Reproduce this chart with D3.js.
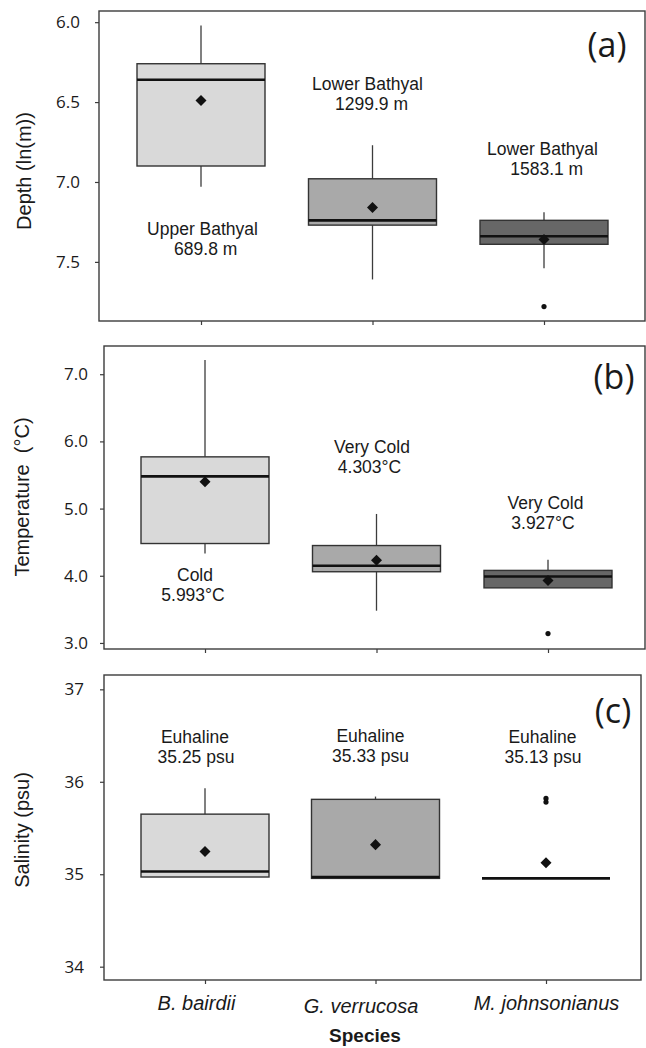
<!DOCTYPE html>
<html>
<head>
<meta charset="utf-8">
<script src="https://cdn.jsdelivr.net/npm/d3@7"></script>
<style>
  body { margin: 0; background: #fff; }
  svg { display: block; }
  text { font-family: "Liberation Sans", Arial, sans-serif; fill: #1a1a1a; }
  .tick text { font-family: "Open Sans", sans-serif; font-size: 17px; fill: #1a1a1a; }
</style>
</head>
<body>
<div id="chart"></div>
<script>
const species = ["B. bairdii", "G. verrucosa", "M. johnsonianus"];
const boxFills = ["#d9d9d9", "#a9a9a9", "#676767"];

// (a) depth, ln(m)
const depthWhiskerLow = [6.02, 6.77, 7.19];
const depthQ1 = [6.26, 6.98, 7.24];
const depthMedian = [6.36, 7.24, 7.34];
const depthQ3 = [6.90, 7.27, 7.39];
const depthWhiskerHigh = [7.03, 7.61, 7.54];
const depthMean = [6.49, 7.16, 7.36];
const depthOutliers = [[], [], [7.78]];
const depthTicks = [6.0, 6.5, 7.0, 7.5];
const depthZone = ["Upper Bathyal", "Lower Bathyal", "Lower Bathyal"];
const depthZoneValue = ["689.8 m", "1299.9 m", "1583.1 m"];

// (b) temperature, °C
const tempWhiskerLow = [4.33, 3.48, 3.82];
const tempQ1 = [4.48, 4.06, 3.82];
const tempMedian = [5.48, 4.15, 3.99];
const tempQ3 = [5.77, 4.45, 4.08];
const tempWhiskerHigh = [7.21, 4.92, 4.24];
const tempMean = [5.40, 4.23, 3.93];
const tempOutliers = [[], [], [3.14]];
const tempTicks = [3.0, 4.0, 5.0, 6.0, 7.0];
const tempZone = ["Cold", "Very Cold", "Very Cold"];
const tempZoneValue = ["5.993°C", "4.303°C", "3.927°C"];

// (c) salinity, psu
const salWhiskerLow = [34.97, 34.955, 34.955];
const salQ1 = [34.97, 34.955, 34.955];
const salMedian = [35.03, 34.97, 34.955];
const salQ3 = [35.65, 35.81, 34.955];
const salWhiskerHigh = [35.93, 35.84, 34.955];
const salMean = [35.245, 35.32, 35.125];
const salOutliers = [[], [], [35.82, 35.78]];
const salTicks = [34, 35, 36, 37];
const salZone = ["Euhaline", "Euhaline", "Euhaline"];
const salZoneValue = ["35.25 psu", "35.33 psu", "35.13 psu"];

const W = 646, H = 1048;
const svg = d3.select("#chart").append("svg")
    .attr("width", W)
    .attr("height", H);

const panels = [
  {
    tag: "(a)", title: "Depth (ln(m))",
    lo: depthWhiskerLow, q1: depthQ1, med: depthMedian, q3: depthQ3, hi: depthWhiskerHigh,
    mean: depthMean, out: depthOutliers, ticks: depthTicks, fmt: d3.format(".1f"),
    zone: depthZone, zoneValue: depthZoneValue,
    left: 99, right: 645, top: 11, bottom: 321, yDomain: [7.87, 5.93],
    xRange: [201, 544], pad: 15,
    ann1Y: [235, 90, 155], ann1Dx: [1.5, -5, -1.5], ann2Dx: [4.7, -1, 2.7],
    tagX: 607, tagY: 57, titleX: 31, titleY: 171
  },
  {
    tag: "(b)", title: "Temperature  (°C)",
    lo: tempWhiskerLow, q1: tempQ1, med: tempMedian, q3: tempQ3, hi: tempWhiskerHigh,
    mean: tempMean, out: tempOutliers, ticks: tempTicks, fmt: d3.format(".1f"),
    zone: tempZone, zoneValue: tempZoneValue,
    left: 104, right: 645, top: 346, bottom: 649, yDomain: [2.91, 7.42],
    xRange: [205, 548], pad: 12,
    ann1Y: [581, 452.7, 508.7], ann1Dx: [-10, -4.5, -2.5], ann2Dx: [-12, -7, -5],
    tagX: 614, tagY: 389, titleX: 29, titleY: 497
  },
  {
    tag: "(c)", title: "Salinity (psu)",
    lo: salWhiskerLow, q1: salQ1, med: salMedian, q3: salQ3, hi: salWhiskerHigh,
    mean: salMean, out: salOutliers, ticks: salTicks, fmt: d3.format("d"),
    zone: salZone, zoneValue: salZoneValue,
    left: 104, right: 641, top: 675, bottom: 980, yDomain: [33.856, 37.155],
    xRange: [205, 546], pad: 16,
    ann1Y: [742.7, 741.7, 742.7], ann1Dx: [-10, -5, -3.5], ann2Dx: [-9, -5, -3],
    tagX: 613, tagY: 723, titleX: 29, titleY: 830,
    showLabels: true
  }
];

const boxHalf = 64;
const labelDx = [-9, -15, 0];
const labelDy = [0, 2.5, 0];

panels.forEach(p => {
  const g = svg.append("g");
  const x = d3.scalePoint().domain(species).range(p.xRange);
  const y = d3.scaleLinear().domain(p.yDomain).range([p.bottom, p.top]);

  // frame
  g.append("rect")
      .attr("x", p.left).attr("y", p.top)
      .attr("width", p.right - p.left).attr("height", p.bottom - p.top)
      .attr("fill", "none").attr("stroke", "#3c3c3c").attr("stroke-width", 1.4);

  // y axis
  const ya = g.append("g")
      .attr("transform", `translate(${p.left},0)`)
      .call(d3.axisLeft(y).tickValues(p.ticks).tickFormat(p.fmt).tickSize(4).tickPadding(p.pad));
  ya.select(".domain").remove();
  ya.selectAll(".tick line").attr("stroke", "#3c3c3c").attr("stroke-width", 1.2);

  // x axis ticks
  const xa = g.append("g")
      .attr("transform", `translate(0,${p.bottom})`)
      .call(d3.axisBottom(x).tickSize(4).tickPadding(11.8)
          .tickFormat(p.showLabels ? (d => d) : () => ""));
  xa.select(".domain").remove();
  xa.selectAll(".tick line").attr("stroke", "#3c3c3c").attr("stroke-width", 1.2);
  if (p.showLabels) {
    xa.selectAll(".tick text")
        .attr("x", (d, i) => labelDx[i])
        .attr("y", (d, i) => 15.8 + labelDy[i])
        .style("font-family", "'Liberation Sans', Arial, sans-serif")
        .style("font-size", "20px")
        .style("font-style", "italic");
  }

  // y title
  g.append("text")
      .attr("transform", `translate(${p.titleX},${p.titleY}) rotate(-90)`)
      .attr("text-anchor", "middle")
      .style("font-size", "20px")
      .style("white-space", "pre")
      .text(p.title);

  // panel tag
  g.append("text")
      .attr("x", p.tagX).attr("y", p.tagY)
      .attr("text-anchor", "middle")
      .style("font-family", "'Open Sans', sans-serif")
      .style("font-size", "34px")
      .text(p.tag);

  species.forEach((s, i) => {
    const cx = x(s);
    const yq1 = y(p.q1[i]), yq3 = y(p.q3[i]);
    const top = Math.min(yq1, yq3), bot = Math.max(yq1, yq3);

    // whiskers
    g.append("line")
        .attr("x1", cx).attr("x2", cx)
        .attr("y1", y(p.hi[i])).attr("y2", y(p.q3[i]))
        .attr("stroke", "#3c3c3c").attr("stroke-width", 1.3);
    g.append("line")
        .attr("x1", cx).attr("x2", cx)
        .attr("y1", y(p.q1[i])).attr("y2", y(p.lo[i]))
        .attr("stroke", "#3c3c3c").attr("stroke-width", 1.3);

    // box
    g.append("rect")
        .attr("x", cx - boxHalf).attr("y", top)
        .attr("width", boxHalf * 2).attr("height", bot - top)
        .attr("fill", boxFills[i])
        .attr("stroke", "#333").attr("stroke-width", 1.4);

    // median
    g.append("line")
        .attr("x1", cx - boxHalf).attr("x2", cx + boxHalf)
        .attr("y1", y(p.med[i])).attr("y2", y(p.med[i]))
        .attr("stroke", "#111").attr("stroke-width", 2.6);

    // outliers
    p.out[i].forEach(v => {
      g.append("circle")
          .attr("cx", cx).attr("cy", y(v)).attr("r", 2.6)
          .attr("fill", "#111");
    });

    // mean
    g.append("path")
        .attr("d", d3.symbol(d3.symbolDiamond2, 78)())
        .attr("transform", `translate(${cx},${y(p.mean[i])})`)
        .attr("fill", "#111");

    // zone annotation
    g.append("text")
        .attr("x", cx + p.ann1Dx[i]).attr("y", p.ann1Y[i])
        .attr("text-anchor", "middle")
        .style("font-size", "17.5px")
        .text(p.zone[i]);
    g.append("text")
        .attr("x", cx + p.ann2Dx[i]).attr("y", p.ann1Y[i] + 20)
        .attr("text-anchor", "middle")
        .style("font-size", "17.5px")
        .text(p.zoneValue[i]);
  });
});

svg.append("text")
    .attr("x", 365).attr("y", 1042)
    .attr("text-anchor", "middle")
    .style("font-size", "19px")
    .style("font-weight", "bold")
    .text("Species");
</script>
</body>
</html>
